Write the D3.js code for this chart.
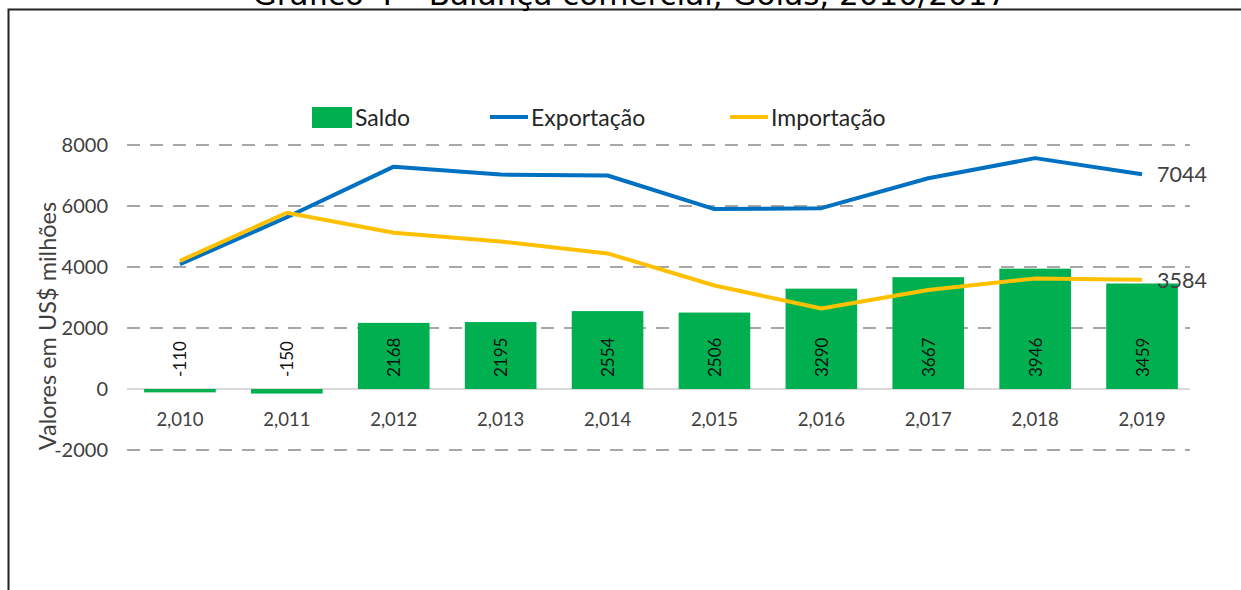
<!DOCTYPE html>
<html><head><meta charset="utf-8">
<script src="https://cdn.jsdelivr.net/npm/d3@7"></script>
<style>body{margin:0;background:#fff}svg{display:block}</style>
</head><body>
<svg id="c" width="1241" height="590"></svg>
<script>
const years = [2010, 2011, 2012, 2013, 2014, 2015, 2016, 2017, 2018, 2019];
const saldo = [-110, -150, 2168, 2195, 2554, 2506, 3290, 3667, 3946, 3459];
const exportacao = [4090, 5630, 7290, 7030, 7000, 5900, 5930, 6910, 7570, 7044];
const importacao = [4200, 5780, 5122, 4835, 4446, 3394, 2640, 3243, 3624, 3584];
const yTicks = [-2000, 0, 2000, 4000, 6000, 8000];
const seriesNames = ["Saldo", "Exportação", "Importação"];
const colors = {"Saldo": "#00B050", "Exportação": "#0070C0", "Importação": "#FFC000"};
const title = "Gráfico 4 – Balança comercial, Goiás, 2010/2017";
const yTitle = "Valores em  US$ milhões";

const svg = d3.select("#c");
const font = "Lato, 'Open Sans', sans-serif";

// frame
svg.append("path").attr("d", "M8.5,590 V9.5 H1241").attr("fill", "none").attr("stroke", "#222").attr("stroke-width", 2);
// title (cut off at the top, as in the reference)
svg.append("text").attr("x", 630).attr("y", 5).attr("text-anchor", "middle")
  .attr("font-family", "'DejaVu Sans', sans-serif").attr("font-size", 31).attr("fill", "#000").text(title);

const x = d3.scaleBand().domain(years).range([126.5, 1195.5]).paddingInner(0.33).paddingOuter(0.165);
const y = d3.scaleLinear().domain([-2000, 8000]).range([450, 145]);
const cx = d => x(d) + x.bandwidth() / 2;
const gx0 = 127, gx1 = 1190;

// gridlines
svg.append("g").selectAll("line").data(yTicks.filter(t => t !== 0)).join("line")
  .attr("x1", gx0).attr("x2", gx1).attr("y1", d => y(d)).attr("y2", d => y(d))
  .attr("stroke", "#8a8a8a").attr("stroke-width", 1.6).attr("stroke-dasharray", "13,10");
svg.append("line").attr("x1", gx0).attr("x2", gx1).attr("y1", y(0)).attr("y2", y(0))
  .attr("stroke", "#d9d9d9").attr("stroke-width", 2);

// y axis
const ya = svg.append("g").attr("transform", `translate(${gx0},0)`)
  .call(d3.axisLeft(y).tickValues(yTicks).tickSize(0).tickPadding(19).tickFormat(d => String(d)));
ya.select(".domain").remove();
ya.selectAll("text").attr("font-family", font).attr("font-size", 20).attr("fill", "#404040");

// x axis
const xa = svg.append("g").attr("transform", `translate(0,${y(0)})`)
  .call(d3.axisBottom(x).tickSize(0).tickPadding(24).tickFormat(d3.format(",")));
xa.select(".domain").remove();
xa.selectAll("text").attr("font-family", font).attr("font-size", 18.5).attr("fill", "#404040");

// y title
svg.append("text").attr("transform", `translate(56,326) rotate(-90)`).attr("text-anchor", "middle")
  .attr("font-family", font).attr("font-size", 23.5).attr("fill", "#404040").text(yTitle);

// bars
const data = years.map((yr, i) => ({yr, s: saldo[i], e: exportacao[i], m: importacao[i]}));
svg.append("g").selectAll("rect").data(data).join("rect")
  .attr("x", d => x(d.yr)).attr("width", x.bandwidth())
  .attr("y", d => y(Math.max(0, d.s))).attr("height", d => Math.abs(y(d.s) - y(0)))
  .attr("fill", colors["Saldo"]);

// bar labels
svg.append("g").selectAll("text").data(data).join("text")
  .attr("transform", d => `translate(${cx(d.yr)},${y(0) - 12}) rotate(-90)`)
  .attr("dominant-baseline", "central").attr("text-anchor", "start")
  .attr("font-family", font).attr("font-size", 17).attr("fill", "#111").text(d => d.s);

// lines
const lineE = d3.line().x(d => cx(d.yr)).y(d => y(d.e));
const lineM = d3.line().x(d => cx(d.yr)).y(d => y(d.m));
svg.append("path").datum(data).attr("d", lineE).attr("fill", "none")
  .attr("stroke", colors["Exportação"]).attr("stroke-width", 4).attr("stroke-linejoin", "round");
svg.append("path").datum(data).attr("d", lineM).attr("fill", "none")
  .attr("stroke", colors["Importação"]).attr("stroke-width", 4).attr("stroke-linejoin", "round");

// end labels
const last = data[data.length - 1];
[last.e, last.m].forEach(v => {
  svg.append("text").attr("x", cx(last.yr) + 15).attr("y", y(v)).attr("dominant-baseline", "central")
    .attr("font-family", font).attr("font-size", 21.5).attr("fill", "#404040").text(v);
});

// legend
const legX = [312, 490, 730];
const lg = svg.append("g");
seriesNames.forEach((n, i) => {
  const g = lg.append("g").attr("transform", `translate(${legX[i]},117)`);
  if (i === 0) g.append("rect").attr("x", 0).attr("y", -10).attr("width", 40).attr("height", 21).attr("fill", colors[n]);
  else g.append("line").attr("x1", 0).attr("x2", 38).attr("y1", 0).attr("y2", 0).attr("stroke", colors[n]).attr("stroke-width", 4);
  g.append("text").attr("x", i === 0 ? 43 : 41).attr("y", 0).attr("dominant-baseline", "central")
    .attr("font-family", font).attr("font-size", 23).attr("fill", "#262626").text(n);
});
</script>
</body></html>
